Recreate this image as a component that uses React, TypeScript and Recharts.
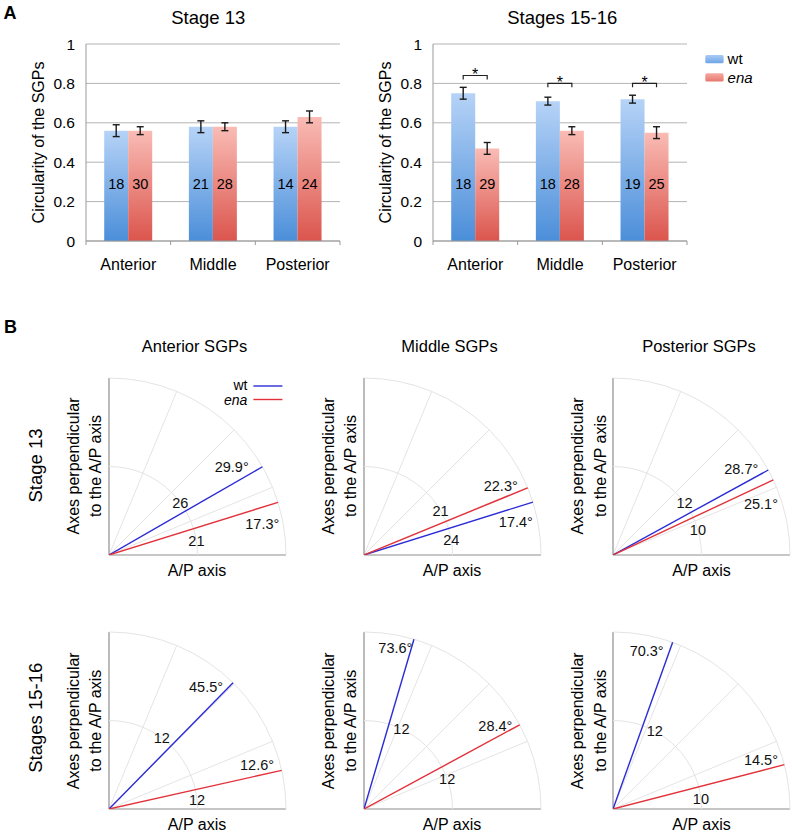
import React from "react";
import {
  BarChart,
  Bar,
  XAxis,
  YAxis,
  CartesianGrid,
  ErrorBar,
  LabelList,
  ReferenceLine,
  ReferenceDot,
  Legend,
  ScatterChart,
  Scatter,
} from "recharts";

// ---------- panel A data ----------
const regions = ["Anterior", "Middle", "Posterior"];

const wt13 = [0.56, 0.58, 0.58];
const wt13Err = [0.03, 0.03, 0.03];
const ena13 = [0.56, 0.58, 0.63];
const ena13Err = [0.02, 0.02, 0.03];
const wt13N = [18, 21, 14];
const ena13N = [30, 28, 24];

const wt1516 = [0.75, 0.71, 0.72];
const wt1516Err = [0.03, 0.02, 0.02];
const ena1516 = [0.47, 0.56, 0.55];
const ena1516Err = [0.03, 0.02, 0.03];
const wt1516N = [18, 18, 19];
const ena1516N = [29, 28, 25];
const sig1516 = [0.84, 0.8, 0.8];

const yTicks = [0, 0.2, 0.4, 0.6, 0.8, 1];

// ---------- panel B data (mean angle in degrees, n) ----------
const sgpTitles = ["Anterior SGPs", "Middle SGPs", "Posterior SGPs"];
const stageTitles = ["Stage 13", "Stages 15-16"];

const wtAngle13 = [29.9, 17.4, 28.7];
const enaAngle13 = [17.3, 22.3, 25.1];
const wtCount13 = [26, 24, 12];
const enaCount13 = [21, 21, 10];

const wtAngle1516 = [45.5, 73.6, 70.3];
const enaAngle1516 = [12.6, 28.4, 14.5];
const wtCount1516 = [12, 12, 12];
const enaCount1516 = [12, 12, 10];

const gridAngles = [22.5, 45, 67.5];
const gridRadii = [0.5, 1];

// ---------- layout ----------
const FONT = '"Liberation Sans", Arial, Helvetica, sans-serif';
const GAP = 0.215;
const BLUE = "#2b2bd6";
const RED = "#e2313a";
const R = 177;
const originsX = [108.5, 363.5, 613];
const originsY = [554.5, 809.3];

// label offsets: degree text (dx to text end, dy to text centre) and count angle shift
const labelLayout = [
  [
    { wt: { dx: -13.7, dy: 0.3, da: 6.4 }, ena: { dx: 1.3, dy: 21, da: -8.3 } },
    { wt: { dx: 0, dy: 20, da: -7.8 }, ena: { dx: -10, dy: -2.3, da: 7.8 } },
    { wt: { dx: -10, dy: -1.7, da: 7.3 }, ena: { dx: 4.7, dy: 24, da: -8.7 } },
  ],
  [
    { wt: { dx: -10, dy: 4, da: 7.9 }, ena: { dx: -7.7, dy: -5.7, da: -6.6 } },
    { wt: { dx: -1.6, dy: 8.8, da: -8.6 }, ena: { dx: -7.3, dy: 0.9, da: -8.4 } },
    { wt: { dx: -9, dy: 8.3, da: -8.5 }, ena: { dx: -6.4, dy: -5.4, da: -7.9 } },
  ],
];

const rad = (d: number) => (d * Math.PI) / 180;

function makeRows(wt, wtErr, ena, enaErr, wtN, enaN) {
  return regions.map((region, i) => ({
    region,
    wt: wt[i],
    wtErr: wtErr[i],
    ena: ena[i],
    enaErr: enaErr[i],
    wtN: wtN[i],
    enaN: enaN[i],
  }));
}

const rows13 = makeRows(wt13, wt13Err, ena13, ena13Err, wt13N, ena13N);
const rows1516 = makeRows(wt1516, wt1516Err, ena1516, ena1516Err, wt1516N, ena1516N);

function BarLegend() {
  return (
    <svg width={90} height={40}>
      <defs>
        <linearGradient id="legWt" x1="0" y1="0" x2="0" y2="1">
          <stop offset="0%" stopColor="#a9cbf5" />
          <stop offset="100%" stopColor="#6ea4e6" />
        </linearGradient>
        <linearGradient id="legEna" x1="0" y1="0" x2="0" y2="1">
          <stop offset="0%" stopColor="#f6aaa2" />
          <stop offset="100%" stopColor="#e7766d" />
        </linearGradient>
      </defs>
      <rect x={3.3} y={5} width={18.3} height={8.3} rx={1.5} fill="url(#legWt)" />
      <text x={25.6} y={13.7} fontSize={15} fill="#000">wt</text>
      <rect x={3.3} y={23.3} width={18.3} height={8.3} rx={1.5} fill="url(#legEna)" />
      <text x={25.6} y={32.7} fontSize={15} fill="#000" fontStyle="italic">ena</text>
    </svg>
  );
}

// category label plus the small separator ticks between categories
function CategoryTick(props) {
  const { x, y, payload, index, visibleTicksCount } = props;
  const half = payload && payload.offset ? payload.offset : 0;
  const axisY = y - 18;
  const last = visibleTicksCount ? index === visibleTicksCount - 1 : index === regions.length - 1;
  return (
    <g>
      {half > 0 && <line x1={x - half} x2={x - half} y1={axisY} y2={axisY + 4} stroke="#999" />}
      {half > 0 && last && <line x1={x + half} x2={x + half} y1={axisY} y2={axisY + 4} stroke="#999" />}
      <text x={x} y={y} dy="0.71em" textAnchor="middle" fontSize={16} fill="#000">
        {payload.value}
      </text>
    </g>
  );
}

function makeBracket(rows, sig) {
  return (p) => {
    const vb = p.viewBox && p.viewBox.width !== undefined ? p.viewBox : p;
    const row = rows[p.index];
    if (!row || !vb || !vb.height) return null;
    const unit = vb.height / row.wt;
    const bottom = vb.y + vb.height;
    const yLine = bottom - sig[p.index] * unit;
    const tick = 0.02 * unit;
    const x1 = vb.x + vb.width / 2;
    const x2 = vb.x + vb.width * 1.5;
    return (
      <g>
        <path
          d={`M${x1},${yLine + tick}V${yLine}H${x2}V${yLine + tick}`}
          fill="none"
          stroke="#222"
          strokeWidth={1.2}
        />
        <text x={(x1 + x2) / 2} y={yLine + 4.7} textAnchor="middle" fontSize={16} fill="#000">
          *
        </text>
      </g>
    );
  };
}

function CircularityChart({ rows, id, left, width, marginRight, sig }) {
  return (
    <div style={{ position: "absolute", left, top: 0 }}>
      <BarChart
        width={width}
        height={290}
        data={rows}
        margin={{ top: 44, right: marginRight, left: 20, bottom: 9 }}
        barCategoryGap={`${GAP * 100}%`}
        barGap={0}
      >
        <defs>
          <linearGradient id={`${id}Wt`} x1="0" y1="0" x2="0" y2="1">
            <stop offset="0%" stopColor="#b6d3f7" />
            <stop offset="100%" stopColor="#4b8ed9" />
          </linearGradient>
          <linearGradient id={`${id}Ena`} x1="0" y1="0" x2="0" y2="1">
            <stop offset="0%" stopColor="#f9bcb5" />
            <stop offset="100%" stopColor="#db554d" />
          </linearGradient>
        </defs>
        <CartesianGrid vertical={false} stroke="#b4b4b4" />
        <XAxis
          dataKey="region"
          tickLine={false}
          axisLine={{ stroke: "#999" }}
          tick={<CategoryTick />}
          tickSize={6}
          tickMargin={12}
          height={40}
        />
        <YAxis
          domain={[0, 1]}
          ticks={yTicks}
          tickFormatter={(v) => String(v)}
          width={66}
          tickLine={false}
          tickSize={6}
          tickMargin={5}
          axisLine={{ stroke: "#999" }}
          tick={{ fill: "#000", fontSize: 15.5 }}
          label={{
            value: "Circularity of the SGPs",
            angle: -90,
            position: "insideLeft",
            offset: 18,
            style: { textAnchor: "middle" },
            fill: "#000",
            fontSize: 16,
          }}
        />
        <Bar dataKey="wt" fill={`url(#${id}Wt)`} isAnimationActive={false}>
          <ErrorBar dataKey="wtErr" width={3.5} stroke="#1a1a1a" strokeWidth={1.4} />
          <LabelList dataKey="wtN" position="insideBottom" offset={52} fill="#000" fontSize={14.5} />
          {sig && <LabelList dataKey="wt" content={makeBracket(rows, sig)} />}
        </Bar>
        <Bar dataKey="ena" fill={`url(#${id}Ena)`} isAnimationActive={false}>
          <ErrorBar dataKey="enaErr" width={3.5} stroke="#1a1a1a" strokeWidth={1.4} />
          <LabelList dataKey="enaN" position="insideBottom" offset={52} fill="#000" fontSize={14.5} />
        </Bar>
        {sig && (
          <Legend
            layout="horizontal"
            verticalAlign="middle"
            align="center"
            wrapperStyle={{ left: 355, top: 50, width: 90, height: 40 }}
            content={() => <BarLegend />}
          />
        )}
      </BarChart>
    </div>
  );
}

function AngleLegend() {
  return (
    <svg width={90} height={34}>
      <text x={48.4} y={12.3} textAnchor="end" fontSize={14} fill="#000">wt</text>
      <line x1={54.4} x2={83.4} y1={8} y2={8} stroke={BLUE} strokeWidth={1.4} />
      <text x={48.4} y={27.2} textAnchor="end" fontSize={14} fill="#000" fontStyle="italic">ena</text>
      <line x1={54.4} x2={83.4} y1={21.5} y2={21.5} stroke={RED} strokeWidth={1.4} />
    </svg>
  );
}

function AnglePanel({ ox, oy, wtAngle, enaAngle, wtN, enaN, lay, showLegend }) {
  const series = [
    { key: "wt", angle: wtAngle, n: wtN, color: BLUE, l: lay.wt },
    { key: "ena", angle: enaAngle, n: enaN, color: RED, l: lay.ena },
  ];
  const fs = 14.5;
  return (
    <div style={{ position: "absolute", left: ox - 10, top: oy - R - 10 }}>
      <ScatterChart width={R + 15} height={R + 20} margin={{ top: 10, right: 5, bottom: 10, left: 10 }}>
        <XAxis type="number" dataKey="x" domain={[0, 1]} allowDataOverflow hide />
        <YAxis type="number" dataKey="y" domain={[0, 1]} allowDataOverflow hide />
        {gridAngles.map((a) => (
          <ReferenceLine
            key={`g${a}`}
            segment={[
              { x: 0, y: 0 },
              { x: Math.cos(rad(a)), y: Math.sin(rad(a)) },
            ]}
            stroke="#e4e4e4"
            strokeWidth={1}
          />
        ))}
        {gridRadii.map((f) => (
          <ReferenceDot
            key={`r${f}`}
            x={0}
            y={0}
            r={0}
            shape={(p) => (
              <path
                d={`M ${p.cx + f * R} ${p.cy} A ${f * R} ${f * R} 0 0 0 ${p.cx} ${p.cy - f * R}`}
                fill="none"
                stroke="#e4e4e4"
                strokeWidth={1}
              />
            )}
          />
        ))}
        <ReferenceLine x={0} stroke="#8e8e8e" strokeWidth={1.2} />
        <ReferenceLine y={0} stroke="#8e8e8e" strokeWidth={1.2} />
        {series.map((s) => (
          <Scatter
            key={s.key}
            data={[
              { x: 0, y: 0 },
              { x: Math.cos(rad(s.angle)), y: Math.sin(rad(s.angle)) },
            ]}
            line={{ stroke: s.color, strokeWidth: 1.4 }}
            shape={() => <g />}
            isAnimationActive={false}
          />
        ))}
        {series.map((s) => (
          <ReferenceDot
            key={`d${s.key}`}
            x={Math.cos(rad(s.angle))}
            y={Math.sin(rad(s.angle))}
            r={0}
            shape={(p) => (
              <text
                x={p.cx + s.l.dx}
                y={p.cy + s.l.dy + 0.36 * fs}
                textAnchor="end"
                fontSize={fs}
                fill="#111"
              >
                {`${s.angle.toFixed(1)}°`}
              </text>
            )}
          />
        ))}
        {series.map((s) => (
          <ReferenceDot
            key={`n${s.key}`}
            x={0.5 * Math.cos(rad(s.angle + s.l.da))}
            y={0.5 * Math.sin(rad(s.angle + s.l.da))}
            r={0}
            shape={(p) => (
              <text x={p.cx} y={p.cy + 0.36 * fs} textAnchor="middle" fontSize={fs} fill="#111">
                {s.n}
              </text>
            )}
          />
        ))}
        {showLegend && (
          <Legend
            layout="horizontal"
            verticalAlign="middle"
            align="center"
            wrapperStyle={{ left: 100, top: 10, width: 90, height: 34 }}
            content={() => <AngleLegend />}
          />
        )}
      </ScatterChart>
    </div>
  );
}

function Annotations() {
  return (
    <svg
      width={795}
      height={834}
      style={{ position: "absolute", left: 0, top: 0, pointerEvents: "none" }}
    >
      <text x={3.5} y={19.3} fontSize={18} fontWeight="bold" fill="#000">A</text>
      <text x={208.3} y={24.3} fontSize={18.5} textAnchor="middle" fill="#000">Stage 13</text>
      <text x={562.2} y={24.3} fontSize={18.5} textAnchor="middle" fill="#000">Stages 15-16</text>
      <text x={4} y={333.3} fontSize={18} fontWeight="bold" fill="#000">B</text>
      {sgpTitles.map((t, i) => (
        <text key={t} x={originsX[i] + 86} y={352} fontSize={16.5} textAnchor="middle" fill="#000">
          {t}
        </text>
      ))}
      {stageTitles.map((t, r) => (
        <text
          key={t}
          transform={`translate(41.5, ${originsY[r] - 89 - (r === 1 ? 2.5 : 0)}) rotate(-90)`}
          fontSize={18.5}
          textAnchor="middle"
          fill="#000"
        >
          {t}
        </text>
      ))}
      {originsY.map((oy, r) =>
        originsX.map((ox, c) => (
          <g key={`${r}-${c}`}>
            <text x={ox + 88.5} y={oy + 21} fontSize={16} textAnchor="middle" fill="#000">
              A/P axis
            </text>
            <text
              transform={`translate(${ox - 30}, ${oy - 88.5}) rotate(-90)`}
              fontSize={16}
              textAnchor="middle"
              fill="#000"
            >
              Axes perpendicular
            </text>
            <text
              transform={`translate(${ox - 7.5}, ${oy - 88.5}) rotate(-90)`}
              fontSize={16}
              textAnchor="middle"
              fill="#000"
            >
              to the A/P axis
            </text>
          </g>
        ))
      )}
    </svg>
  );
}

export default function App() {
  const angleRows = [
    { wa: wtAngle13, ea: enaAngle13, wn: wtCount13, en: enaCount13 },
    { wa: wtAngle1516, ea: enaAngle1516, wn: wtCount1516, en: enaCount1516 },
  ];
  return (
    <div
      style={{
        position: "absolute",
        left: 0,
        top: 0,
        width: 795,
        height: 834,
        overflow: "hidden",
        background: "#fff",
        fontFamily: FONT,
      }}
    >
      <CircularityChart rows={rows13} id="s13" left={0} width={350} marginRight={10} sig={null} />
      <CircularityChart rows={rows1516} id="s1516" left={346.7} width={445} marginRight={105} sig={sig1516} />
      {angleRows.map((row, r) =>
        originsX.map((ox, c) => (
          <AnglePanel
            key={`${r}-${c}`}
            ox={ox}
            oy={originsY[r]}
            wtAngle={row.wa[c]}
            enaAngle={row.ea[c]}
            wtN={row.wn[c]}
            enaN={row.en[c]}
            lay={labelLayout[r][c]}
            showLegend={r === 0 && c === 0}
          />
        ))
      )}
      <Annotations />
    </div>
  );
}
